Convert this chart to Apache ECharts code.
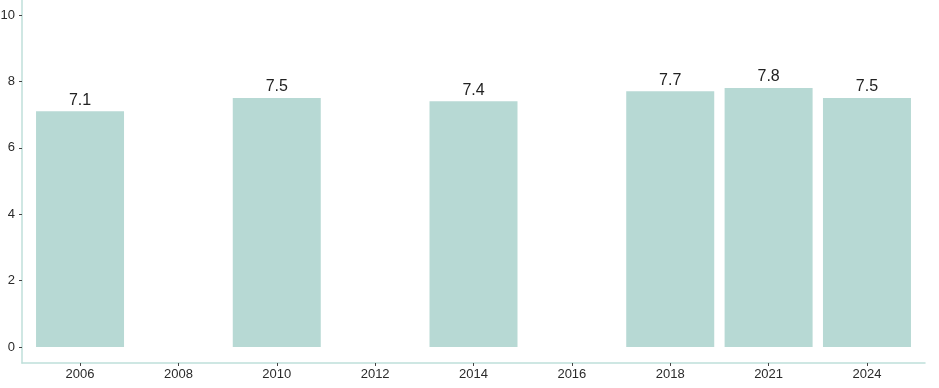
<!DOCTYPE html>
<html><head><meta charset="utf-8">
<script src="https://cdn.jsdelivr.net/npm/echarts@6/dist/echarts.min.js"></script>
<style>html,body{margin:0;padding:0;background:#fff}#c{width:939px;height:388px}</style>
</head><body><div id="c"></div>
<script>
const categories = ['2006','2008','2010','2012','2014','2016','2018','2021','2024'];
const barYears = ['2006','2010','2014','2018','2021','2024'];
const barValues = [7.1, 7.5, 7.4, 7.7, 7.8, 7.5];
const yTicks = [0, 2, 4, 6, 8, 10];

const data = barYears.map((y, i) => [categories.indexOf(y), barValues[i]]);
const chart = echarts.init(document.getElementById('c'));
chart.setOption({
  animation: false,
  grid: { left: 22, right: 14, top: 0, bottom: 25, containLabel: false, outerBoundsMode: 'none' },
  xAxis: {
    type: 'value', min: -0.59, max: 8.59,
    axisLine: { show: true, onZero: false, lineStyle: { color: '#bfdfda', width: 1.5 } },
    axisTick: { show: true, length: 3, lineStyle: { color: '#444' }, customValues: categories.map((c, i) => i) },
    axisLabel: { customValues: categories.map((c, i) => i), formatter: v => categories[Math.round(v)], color: '#2a2a2a', fontSize: 13, fontFamily: 'Liberation Sans', margin: 5 },
    splitLine: { show: false }
  },
  yAxis: {
    type: 'value', min: -0.48, max: 10.45,
    axisLine: { show: true, onZero: false, lineStyle: { color: '#bfdfda', width: 1.5 } },
    axisTick: { show: true, length: 3, lineStyle: { color: '#444' }, customValues: yTicks },
    axisLabel: { customValues: yTicks, color: '#2a2a2a', fontSize: 13, fontFamily: 'Liberation Sans', margin: 7 },
    splitLine: { show: false }
  },
  series: [{
    type: 'bar', data: data, barWidth: 88,
    itemStyle: { color: '#b7d9d4' },
    label: { show: true, position: 'top', distance: 3, color: '#222', fontSize: 16, fontFamily: 'Liberation Sans', formatter: p => p.value[1].toFixed(1) }
  }]
});
</script></body></html>
